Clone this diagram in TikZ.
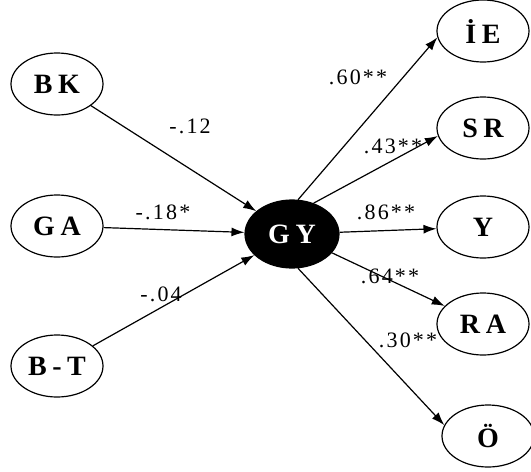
\documentclass[tikz,border=0pt]{standalone}
\usepackage{fontspec}
\setmainfont{Liberation Serif}
\newfontfamily\nodefont[LetterSpace=20]{Liberation Serif}
\newfontfamily\labfont[LetterSpace=10]{Liberation Serif}
\usetikzlibrary{shapes.geometric,arrows.meta}
\begin{document}
\begin{tikzpicture}[x=1pt,y=-1pt,
  var/.style={ellipse,draw,line width=1.2pt,minimum width=92pt,minimum height=62pt,inner sep=0pt,font=\nodefont\bfseries\fontsize{28}{29}\selectfont},
  latent/.style={var,fill=black,text=white,minimum width=94pt,minimum height=68pt},
  path/.style={-{Latex[length=13pt,width=9pt]},line width=1.2pt},
  lab/.style={font=\labfont\fontsize{22}{24}\selectfont,inner sep=0pt}]
\useasboundingbox (0,0) rectangle (531,472);
\node[var] (BK) at (57,84) {BK};
\node[var] (GA) at (57,226) {GA};
\node[var] (BT) at (57,366) {B-T};
\node[latent] (GY) at (292,234) {GY};
\node[var] (IE) at (483,31) {\.IE};
\node[var] (SR) at (483,128) {SR};
\node[var] (Y) at (483,227) {Y};
\node[var] (RA) at (483,324) {RA};
\node[var] (O) at (488,436) {\"O};
\draw[path] (BK) -- (GY);
\draw[path] (GA) -- (GY);
\draw[path] (BT) -- (GY);
\draw[path] (GY.80) -- (IE.188);
\draw[path] (GY.55) -- (SR.190);
\draw[path] (GY) -- (Y);
\draw[path] (GY) -- (RA);
\draw[path] (GY.-80) -- (O.166);
\node[lab] (l1) at (190,126) {-.12};
\node[lab] (l2) at (163,212) {-.18*};
\node[lab] (l3) at (161,294) {-.04};
\node[lab] (l4) at (358,77) {.60**};
\node[lab] (l5) at (393,146) {.43**};
\node[lab] (l6) at (386,212) {.86**};
\node[lab] (l7) at (390,276) {.64**};
\node[lab] (l8) at (408,340) {.30**};
\end{tikzpicture}
\end{document}
